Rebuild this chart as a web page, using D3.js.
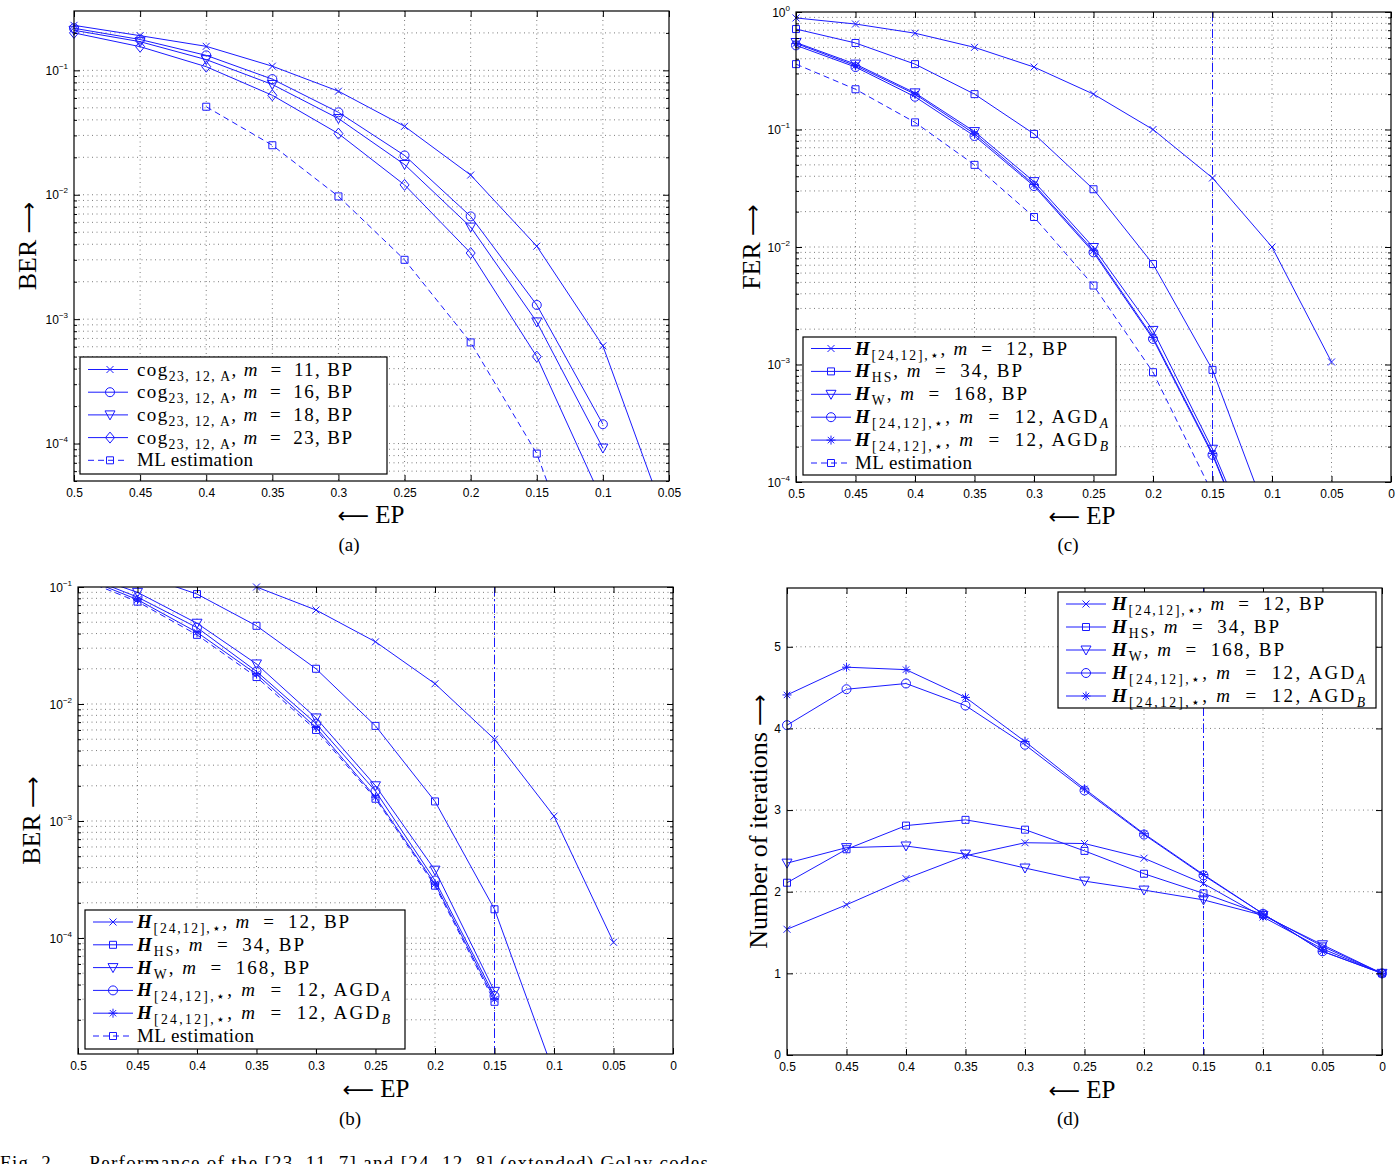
<!DOCTYPE html>
<html><head><meta charset="utf-8">
<script src="https://cdn.jsdelivr.net/npm/d3@7"></script>
<style>body{margin:0;background:#fff}svg{display:block}</style>
</head><body>
<svg id="chart" width="1396" height="1164"></svg>
<script>
// ---------------- DATA ----------------
// Panel (a): BER, [23,11,7] Golay (cog_{23,12,A})
const epA = [0.5,0.45,0.4,0.35,0.3,0.25,0.2,0.15,0.1,0.05];
const berA_m11 = [0.23,0.19,0.156,0.108,0.068,0.0355,0.0144,0.00386,6.1e-4,2.1e-5];
const berA_m16 = [0.218,0.177,0.132,0.085,0.046,0.0207,0.0067,0.0013,1.43e-4];
const berA_m18 = [0.21,0.17,0.122,0.077,0.041,0.0175,0.0055,9.5e-4,9.2e-5];
const berA_m23 = [0.2,0.155,0.107,0.063,0.031,0.012,0.0034,5e-4,3.4e-5];
const epA_ML = [0.4,0.35,0.3,0.25,0.2,0.15,0.1];
const berA_ML = [0.051,0.025,0.0097,0.003,6.5e-4,8.3e-5,3e-6];

// Panel (c): FER, [24,12,8] extended Golay
const epC = [0.5,0.45,0.4,0.35,0.3,0.25,0.2,0.15,0.1,0.05];
const ferC_BP = [0.89,0.79,0.66,0.50,0.34,0.2,0.1,0.0387,0.01,1.05e-3];
const ferC_HS = [0.716,0.545,0.36,0.2,0.0917,0.031,0.00716,9e-4,4e-5];
const ferC_HW = [0.55,0.36,0.205,0.096,0.036,0.0099,0.00195,1.9e-4,1.2e-5];
const ferC_AGDA = [0.52,0.34,0.19,0.088,0.033,0.009,0.00165,1.7e-4,1e-5];
const ferC_AGDB = [0.54,0.35,0.2,0.092,0.034,0.0093,0.0017,1.75e-4,1e-5];
const ferC_ML = [0.36,0.22,0.115,0.05,0.018,0.0047,8.6e-4,8e-5];

// Panel (b): BER, [24,12,8] extended Golay
const epB = [0.5,0.45,0.4,0.35,0.3,0.25,0.2,0.15,0.1,0.05];
const berB_BP = [0.24,0.2,0.15,0.1,0.0636,0.034,0.0149,0.005,1.1e-3,9.2e-5];
const berB_HS = [0.17,0.13,0.087,0.0466,0.02,0.0065,0.00147,1.76e-4,7e-6];
const berB_HW = [0.135,0.09,0.049,0.022,0.0076,0.002,3.8e-4,3.5e-5];
const berB_AGDA = [0.13,0.082,0.045,0.019,0.0068,0.0018,3.1e-4,3.2e-5];
const berB_AGDB = [0.125,0.078,0.041,0.018,0.0063,0.0016,2.9e-4,3e-5];
const berB_ML = [0.12,0.075,0.039,0.017,0.006,0.00155,2.8e-4,2.85e-5];

// Panel (d): number of iterations
const epD = [0.5,0.45,0.4,0.35,0.3,0.25,0.2,0.15,0.1,0.05,0];
const iterD_BP = [1.54,1.84,2.16,2.44,2.6,2.59,2.41,2.1,1.69,1.3,1.0];
const iterD_HS = [2.11,2.52,2.81,2.88,2.76,2.5,2.22,1.98,1.72,1.33,1.0];
const iterD_HW = [2.35,2.54,2.56,2.46,2.29,2.13,2.02,1.9,1.71,1.35,1.0];
const iterD_AGDA = [4.04,4.48,4.55,4.28,3.8,3.24,2.7,2.2,1.73,1.27,1.0];
const iterD_AGDB = [4.41,4.75,4.72,4.38,3.84,3.26,2.71,2.21,1.73,1.27,1.0];

// Tick values
const xTicksA = [0.5,0.45,0.4,0.35,0.3,0.25,0.2,0.15,0.1,0.05];
const xTicksFull = [0.5,0.45,0.4,0.35,0.3,0.25,0.2,0.15,0.1,0.05,0];
const yTicksA = [1e-1,1e-2,1e-3,1e-4];
const yTicksC = [1,1e-1,1e-2,1e-3,1e-4];
const yTicksB = [1e-1,1e-2,1e-3,1e-4];
const yTicksD = [0,1,2,3,4,5];

// Legend labels (rich text segments)
const EQ = ' \u2009=\u2009 ';
const legA = [
  [{t:'cog'},{t:'23, 12, A',sub:1},{t:', '},{t:'m',it:1},{t:EQ+'11, BP'}],
  [{t:'cog'},{t:'23, 12, A',sub:1},{t:', '},{t:'m',it:1},{t:EQ+'16, BP'}],
  [{t:'cog'},{t:'23, 12, A',sub:1},{t:', '},{t:'m',it:1},{t:EQ+'18, BP'}],
  [{t:'cog'},{t:'23, 12, A',sub:1},{t:', '},{t:'m',it:1},{t:EQ+'23, BP'}],
  [{t:'ML estimation'}]
];
const legH = [
  [{t:'H',bi:1},{t:'[24,12],\u22c6',sub:1},{t:', '},{t:'m',it:1},{t:EQ+'12, BP'}],
  [{t:'H',bi:1},{t:'HS',sub:1},{t:', '},{t:'m',it:1},{t:EQ+'34, BP'}],
  [{t:'H',bi:1},{t:'W',sub:1},{t:', '},{t:'m',it:1},{t:EQ+'168, BP'}],
  [{t:'H',bi:1},{t:'[24,12],\u22c6',sub:1},{t:', '},{t:'m',it:1},{t:EQ+'12, AGD'},{t:'A',sub:1,it:1}],
  [{t:'H',bi:1},{t:'[24,12],\u22c6',sub:1},{t:', '},{t:'m',it:1},{t:EQ+'12, AGD'},{t:'B',sub:1,it:1}],
  [{t:'ML estimation'}]
];
// rendered widths of legend texts (px)
const legWidthA = [215,215,215,215,116];
const legWidthH = [212,167,172,253,253,117];

// ---------------- DRAWING ----------------
const SERIF = "'Liberation Serif','Times New Roman',serif";
const SANS = "'Liberation Sans',Arial,Helvetica,sans-serif";
const ARROWF = "'DejaVu Sans',sans-serif";
const BLUE = "#1a1aff";
const svg = d3.select("#chart");

function markerPath(type){
  switch(type){
    case 'x': return "M-3.5,-3.5L3.5,3.5M-3.5,3.5L3.5,-3.5";
    case 'o': return "M4.5,0A4.5,4.5 0 1 1 -4.5,0A4.5,4.5 0 1 1 4.5,0Z";
    case 'v': return "M-5,-4L5,-4L0,5Z";
    case 'd': return "M0,-5.5L4.5,0L0,5.5L-4.5,0Z";
    case 's': return "M-3.5,-3.5H3.5V3.5H-3.5Z";
    case '*': return "M-4.5,0H4.5M0,-4.5V4.5M-3.2,-3.2L3.2,3.2M-3.2,3.2L3.2,-3.2";
  }
}

function richText(sel, segs, size){
  let cur = 0;
  segs.forEach(s=>{
    const target = s.sub ? 5 : 0;
    const t = sel.append("tspan").text(s.t);
    if (target !== cur) t.attr("dy", target-cur);
    cur = target;
    if (s.sub) t.attr("font-size", size*0.72);
    if (s.it) t.attr("font-style","italic");
    if (s.bi) t.attr("font-style","italic").attr("font-weight","bold");
  });
}

let clipId = 0;
function panel(cfg){
  const g = svg.append("g");
  const x = d3.scaleLinear().domain(cfg.xDomain).range([cfg.x0, cfg.x1]);
  const y = (cfg.log ? d3.scaleLog() : d3.scaleLinear()).domain(cfg.yDomain).range([cfg.y1, cfg.y0]);
  const W = cfg.x1-cfg.x0, H = cfg.y1-cfg.y0;

  g.append("rect").attr("x",cfg.x0).attr("y",cfg.y0).attr("width",W).attr("height",H).attr("fill","#fff");

  let minor = [];
  if (cfg.log){
    const lo = Math.floor(Math.log10(cfg.yDomain[0])), hi = Math.ceil(Math.log10(cfg.yDomain[1]));
    for (let e=lo; e<hi; e++) for (let k=2;k<=9;k++){
      const v = k*Math.pow(10,e);
      if (v>=cfg.yDomain[0] && v<=cfg.yDomain[1]) minor.push(v);
    }
  }
  // grid
  const grid = g.append("g").attr("stroke","#444").attr("stroke-width",0.7).attr("stroke-dasharray","1,3.5");
  cfg.xTicks.forEach(v=>{
    if (v===cfg.xDomain[0]||v===cfg.xDomain[1]) return;
    grid.append("line").attr("x1",x(v)).attr("x2",x(v)).attr("y1",cfg.y0).attr("y2",cfg.y1);
  });
  cfg.yTicks.concat(minor).forEach(v=>{
    if (Math.abs(y(v)-cfg.y0)<0.5||Math.abs(y(v)-cfg.y1)<0.5) return;
    grid.append("line").attr("x1",cfg.x0).attr("x2",cfg.x1).attr("y1",y(v)).attr("y2",y(v));
  });

  if (cfg.vline!=null){
    g.append("line").attr("x1",x(cfg.vline)).attr("x2",x(cfg.vline)).attr("y1",cfg.y0).attr("y2",cfg.y1)
      .attr("stroke",BLUE).attr("stroke-width",1).attr("stroke-dasharray","9,3,2,3");
  }

  const cid = "clip"+(clipId++);
  svg.append("clipPath").attr("id",cid).append("rect").attr("x",cfg.x0).attr("y",cfg.y0).attr("width",W).attr("height",H);

  const line = d3.line().x(d=>x(d[0])).y(d=>y(d[1]));
  cfg.series.forEach(s=>{
    const pts = s.vals.map((v,i)=>[s.ep[i], v]);
    g.append("path").attr("d",line(pts)).attr("fill","none").attr("stroke",BLUE).attr("stroke-width",1)
      .attr("stroke-dasharray", s.dash ? "6,4" : null).attr("clip-path",`url(#${cid})`);
    const inPts = pts.filter(p=>p[1]>=cfg.yDomain[0]*0.999 && p[1]<=cfg.yDomain[1]*1.001);
    g.selectAll(null).data(inPts).enter().append("path")
      .attr("transform",d=>`translate(${x(d[0])},${y(d[1])})`)
      .attr("d",markerPath(s.marker)).attr("fill","none").attr("stroke",BLUE).attr("stroke-width",1);
  });

  // axes (inside ticks)
  const bot = d3.axisBottom(x).tickValues(cfg.xTicks).tickSizeInner(-6).tickSizeOuter(0).tickPadding(7).tickFormat(d=>d===0?"0":String(d));
  const top = d3.axisTop(x).tickValues(cfg.xTicks).tickSizeInner(-6).tickSizeOuter(0).tickFormat("");
  const gb = g.append("g").attr("transform",`translate(0,${cfg.y1})`).call(bot);
  g.append("g").attr("transform",`translate(0,${cfg.y0})`).call(top);
  const left = d3.axisLeft(y).tickValues(cfg.yTicks).tickSizeInner(-6).tickSizeOuter(0).tickPadding(6).tickFormat(cfg.log ? "" : d=>String(d));
  const right = d3.axisRight(y).tickValues(cfg.yTicks).tickSizeInner(-6).tickSizeOuter(0).tickFormat("");
  const gl = g.append("g").attr("transform",`translate(${cfg.x0},0)`).call(left);
  g.append("g").attr("transform",`translate(${cfg.x1},0)`).call(right);
  if (cfg.log){
    g.append("g").attr("transform",`translate(${cfg.x0},0)`).call(d3.axisLeft(y).tickValues(minor).tickSizeInner(-3).tickSizeOuter(0).tickFormat(""));
    g.append("g").attr("transform",`translate(${cfg.x1},0)`).call(d3.axisRight(y).tickValues(minor).tickSizeInner(-3).tickSizeOuter(0).tickFormat(""));
    gl.selectAll(".tick text").each(function(d){
      const t = d3.select(this).text(null).attr("dy","0.35em");
      t.append("tspan").text("10");
      const e = Math.round(Math.log10(d));
      t.append("tspan").attr("dy",-6).attr("font-size",8).text(e===0?"0":"\u2212"+Math.abs(e));
    });
  }
  g.selectAll(".domain").remove();
  g.selectAll(".tick line").attr("stroke","#000").attr("stroke-width",1);
  g.selectAll(".tick text").attr("font-family",SANS).attr("font-size",12).attr("fill","#000");
  gb.selectAll(".tick text").attr("dy","0.71em");
  g.append("rect").attr("x",cfg.x0).attr("y",cfg.y0).attr("width",W).attr("height",H)
    .attr("fill","none").attr("stroke","#000").attr("stroke-width",1.2);

  // labels
  const yl = g.append("text").attr("transform",`translate(${cfg.ylabX},${(cfg.y0+cfg.y1)/2}) rotate(-90)`)
    .attr("text-anchor","middle").attr("font-family",SERIF).attr("font-size",26);
  yl.append("tspan").text(cfg.ylabel+" ");
  yl.append("tspan").attr("font-family",ARROWF).attr("font-size",22).text("\u27f6");
  const xl = g.append("text").attr("x",cfg.xlab[0]).attr("y",cfg.xlab[1]).attr("text-anchor","middle")
    .attr("font-family",SERIF).attr("font-size",25);
  xl.append("tspan").attr("font-family",ARROWF).attr("font-size",22).text("\u27f5");
  xl.append("tspan").text(" EP");
  g.append("text").attr("x",cfg.sub[0]).attr("y",cfg.sub[1]).attr("text-anchor","middle")
    .attr("font-family",SERIF).attr("font-size",19).text(cfg.sub[2]);

  // legend
  const L = cfg.legend;
  const lg = g.append("g");
  lg.append("rect").attr("x",L.x).attr("y",L.y).attr("width",L.w).attr("height",L.h)
    .attr("fill","#fff").attr("stroke","#000").attr("stroke-width",1.2);
  cfg.series.forEach((s,i)=>{
    const cy = L.row0 + i*L.rowH;
    lg.append("line").attr("x1",L.x+8).attr("x2",L.x+48).attr("y1",cy).attr("y2",cy)
      .attr("stroke",BLUE).attr("stroke-width",1).attr("stroke-dasharray", s.dash ? "6,4" : null);
    lg.append("path").attr("transform",`translate(${L.x+L.mk},${cy})`).attr("d",markerPath(s.marker))
      .attr("fill","none").attr("stroke",BLUE).attr("stroke-width",1);
    const t = lg.append("text").attr("x",L.x+L.tx).attr("y",cy+6).attr("font-family",SERIF).attr("font-size",L.fs)
      .attr("textLength",L.widths[i]).attr("lengthAdjust","spacing");
    richText(t, s.label, L.fs);
  });
}

// (a)
panel({x0:74,x1:669,y0:11,y1:481,xDomain:[0.5,0.05],xTicks:xTicksA,log:true,yDomain:[5e-5,0.3],yTicks:yTicksA,
  series:[
    {ep:epA,vals:berA_m11,marker:'x',label:legA[0]},
    {ep:epA,vals:berA_m16,marker:'o',label:legA[1]},
    {ep:epA,vals:berA_m18,marker:'v',label:legA[2]},
    {ep:epA,vals:berA_m23,marker:'d',label:legA[3]},
    {ep:epA_ML,vals:berA_ML,marker:'s',dash:1,label:legA[4]}],
  ylabel:"BER",ylabX:36,xlab:[371,523],sub:[349,551,"(a)"],
  legend:{x:80,y:357,w:307,h:117,row0:369.5,rowH:22.7,fs:19,mk:30,tx:57,widths:legWidthA}});

// (c)
panel({x0:796,x1:1391,y0:12,y1:482,xDomain:[0.5,0],xTicks:xTicksFull,log:true,yDomain:[1e-4,1],yTicks:yTicksC,
  series:[
    {ep:epC,vals:ferC_BP,marker:'x',label:legH[0]},
    {ep:epC,vals:ferC_HS,marker:'s',label:legH[1]},
    {ep:epC,vals:ferC_HW,marker:'v',label:legH[2]},
    {ep:epC,vals:ferC_AGDA,marker:'o',label:legH[3]},
    {ep:epC,vals:ferC_AGDB,marker:'*',label:legH[4]},
    {ep:epC,vals:ferC_ML,marker:'s',dash:1,label:legH[5]}],
  vline:0.15,ylabel:"FER",ylabX:760,xlab:[1082,524],sub:[1068,551,"(c)"],
  legend:{x:803,y:337,w:313,h:138,row0:348.5,rowH:22.9,fs:19,mk:28,tx:52,widths:legWidthH}});

// (b)
panel({x0:78,x1:673,y0:587,y1:1054,xDomain:[0.5,0],xTicks:xTicksFull,log:true,yDomain:[1.02e-5,0.1],yTicks:yTicksB,
  series:[
    {ep:epB,vals:berB_BP,marker:'x',label:legH[0]},
    {ep:epB,vals:berB_HS,marker:'s',label:legH[1]},
    {ep:epB,vals:berB_HW,marker:'v',label:legH[2]},
    {ep:epB,vals:berB_AGDA,marker:'o',label:legH[3]},
    {ep:epB,vals:berB_AGDB,marker:'*',label:legH[4]},
    {ep:epB,vals:berB_ML,marker:'s',dash:1,label:legH[5]}],
  vline:0.15,ylabel:"BER",ylabX:40,xlab:[376,1097],sub:[350,1125,"(b)"],
  legend:{x:85,y:910,w:320,h:139,row0:922,rowH:22.8,fs:19,mk:28,tx:52,widths:legWidthH}});

// (d)
panel({x0:787,x1:1382,y0:588,y1:1055,xDomain:[0.5,0],xTicks:xTicksFull,log:false,yDomain:[0,5.72],yTicks:yTicksD,
  series:[
    {ep:epD,vals:iterD_BP,marker:'x',label:legH[0]},
    {ep:epD,vals:iterD_HS,marker:'s',label:legH[1]},
    {ep:epD,vals:iterD_HW,marker:'v',label:legH[2]},
    {ep:epD,vals:iterD_AGDA,marker:'o',label:legH[3]},
    {ep:epD,vals:iterD_AGDB,marker:'*',label:legH[4]}],
  vline:0.15,ylabel:"Number of iterations",ylabX:767,xlab:[1082,1098],sub:[1068,1125,"(d)"],
  legend:{x:1058,y:592,w:318,h:116,row0:604,rowH:23,fs:19,mk:28,tx:54,widths:legWidthH}});

// caption (cut off at bottom of page, as in the reference)
svg.append("text").attr("x",0).attr("y",1169).attr("font-family",SERIF).attr("font-size",19)
  .attr("textLength",708).attr("lengthAdjust","spacing")
  .text("Fig. 2.\u2003\u2002Performance of the [23, 11, 7] and [24, 12, 8] (extended) Golay codes");
</script>
</body></html>
